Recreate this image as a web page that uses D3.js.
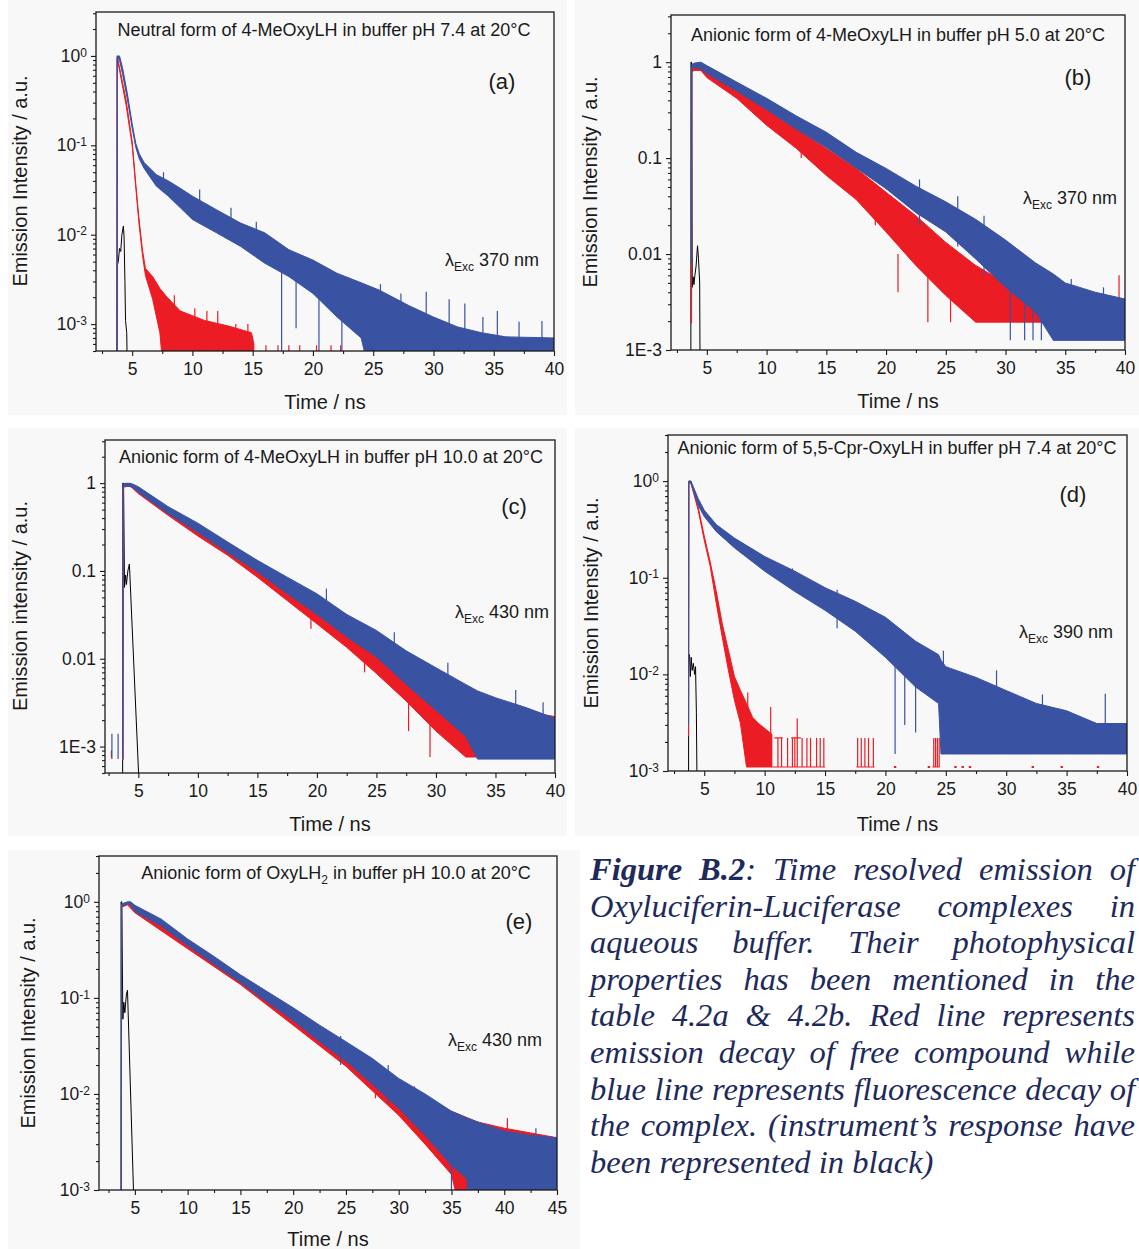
<!DOCTYPE html>
<html><head><meta charset="utf-8">
<script src="https://cdn.jsdelivr.net/npm/d3@7/dist/d3.min.js"></script>
<style>body{margin:0;background:#fff}svg{display:block}</style>
</head><body>
<svg id="fig" width="1139" height="1249"></svg>
<script>
// ---------- DATA ----------
const Z = 1e-4; // zero counts: below the axis floor
// band series: [time ns, lower edge of noisy band, upper edge]
const aBlue = [[3.74,Z,Z],[3.76,0.95,1.0],[3.95,0.9,1.0],[4.2,0.63,0.74],[4.6,0.33,0.38],[5.0,0.155,0.175],[5.3,0.095,0.105],[5.6,0.07,0.08],[6.0,0.055,0.064],[7.0,0.035,0.047],[8.0,0.027,0.04],[9.0,0.02,0.033],[10,0.0148,0.027],[12,0.0105,0.019],[14,0.0074,0.0135],[16,0.0048,0.0105],[18,0.0034,0.0068],[20,0.0022,0.0052],[22,0.0012,0.0037],[24,0.0007,0.0029],[25.5,Z,0.0024],[28,Z,0.0016],[30,Z,0.0012],[32,Z,0.00093],[34,Z,0.0008],[36,Z,0.00072],[40,Z,0.0007]];
const aRed = [[3.74,Z,Z],[3.76,0.95,1.0],[4.5,0.28,0.32],[5.0,0.1,0.11],[5.3,0.034,0.037],[5.55,0.014,0.016],[5.85,0.006,0.0068],[6.1,0.0035,0.0042],[6.7,0.0019,0.0034],[7.3,0.0008,0.0025],[7.9,Z,0.002],[9,Z,0.0014],[11,Z,0.0011],[13,Z,0.00095],[14.9,Z,0.0008],[15.1,Z,0.0006]];
const aBlack = [[3.75,Z],[3.76,0.0045],[3.85,0.005],[3.95,0.007],[4.05,0.0065],[4.15,0.01],[4.27,0.0125],[4.33,0.0095],[4.4,0.003],[4.45,0.0011],[4.55,0.0008],[4.65,Z]];
// single noise spikes: [time, low, high]
const aBlueSpikes = [[7.6,0.03,0.05],[10.6,0.02,0.032],[13.2,0.012,0.02],[15.3,0.006,0.014],[17.4,Z,0.005],[18.6,0.0009,0.005],[20.5,Z,0.004],[22.4,Z,0.003],[25.6,0.0008,0.0028],[27.3,0.0007,0.0022],[29.4,0.0007,0.0023],[31.3,0.0006,0.0019],[32.6,0.0006,0.0017],[34.1,0.0006,0.0012],[35.3,0.0006,0.0014],[37.1,0.0006,0.00106],[39.0,0.0006,0.00108]];
const aRedSpikes = [[8.5,Z,0.0021],[10.2,Z,0.0015],[11.2,Z,0.0014],[12.1,Z,0.0014],[13.6,Z,0.001],[14.6,Z,0.001],[16.1,Z,0.00058],[17.1,Z,0.00058],[18.0,Z,0.00058],[18.9,Z,0.00058],[20.3,Z,0.00058],[21.5,Z,0.00058],[22.3,Z,0.00058]];

const bBlue = [[3.72,0.008,0.009],[3.74,0.85,0.95],[4.0,0.88,0.98],[4.5,0.85,1.0],[5,0.76,0.92],[7.5,0.5,0.62],[10,0.32,0.42],[12.5,0.2,0.275],[15,0.129,0.186],[17.5,0.079,0.115],[20,0.048,0.078],[22.5,0.027,0.051],[25,0.017,0.035],[27.5,0.0089,0.023],[30,0.0045,0.014],[32.5,0.0025,0.0081],[34,0.00126,0.0062],[35,0.00126,0.005],[37.5,0.00126,0.004],[40,0.00126,0.0034]];
const bRed = [[3.72,0.0019,0.002],[3.74,0.8,0.85],[4.0,0.82,0.9],[4.5,0.82,0.95],[5,0.69,0.89],[7.5,0.42,0.55],[10,0.22,0.32],[12.5,0.126,0.2],[15,0.066,0.126],[17.5,0.037,0.078],[20,0.017,0.044],[22.5,0.0076,0.025],[25,0.0037,0.0132],[27.5,0.00195,0.0076],[30,0.00195,0.005],[32.5,0.00195,0.0039],[40,0.00195,0.0033]];
const bBlack = [[3.66,Z],[3.67,1.0],[3.72,1.0],[3.78,0.0045],[3.85,0.0058],[3.92,0.0048],[4.0,0.006],[4.1,0.0075],[4.22,0.0122],[4.3,0.009],[4.4,0.005],[4.46,Z]];
const bBlueSpikes = [[22.8,0.02,0.06],[26.0,0.012,0.04],[28.2,0.006,0.025],[30.4,0.00126,0.006],[31.6,0.00126,0.005],[32.3,0.00126,0.004],[33.0,0.00126,0.004],[35.5,0.003,0.0055],[38.2,0.003,0.0045]];
const bRedSpikes = [[12.9,0.1,0.16],[19.1,0.02,0.05],[21.0,0.004,0.01],[23.5,0.00195,0.008],[25.4,0.00195,0.006],[32.0,0.002,0.004],[39.5,0.002,0.006]];

const cBlue = [[3.70,0.00072,0.00072],[3.72,0.9,0.98],[4.0,0.93,1.0],[4.5,0.9,0.98],[5,0.79,0.91],[7.5,0.45,0.54],[10,0.275,0.35],[12.5,0.162,0.214],[15,0.098,0.132],[17.5,0.055,0.085],[20,0.032,0.055],[22.5,0.0178,0.032],[25,0.0105,0.021],[27.5,0.0051,0.0123],[30,0.0026,0.0079],[32.5,0.0013,0.0051],[33.5,0.00072,0.0043],[35,0.00072,0.0036],[37.5,0.00072,0.0028],[40,0.00072,0.0021]];
const cRed = [[3.70,0.0007,0.0007],[3.72,0.9,0.96],[4.3,0.93,1.0],[5,0.76,0.89],[7.5,0.43,0.51],[10,0.25,0.32],[12.5,0.151,0.195],[15,0.085,0.12],[17.5,0.046,0.071],[20,0.025,0.046],[22.5,0.0135,0.025],[25,0.0068,0.0148],[27.5,0.0033,0.0087],[30,0.0015,0.0048],[32.5,0.00076,0.0033],[35,0.00076,0.0028],[40,0.00076,0.0022]];
const cBlack = [[3.68,Z],[3.69,1.0],[3.76,1.0],[3.84,0.065],[3.93,0.09],[4.0,0.07],[4.12,0.1],[4.25,0.12],[5.05,0.0004]];
const cBlueSpikes = [[2.78,0.00072,0.0014],[3.3,0.00072,0.0014],[20.8,0.04,0.063],[26.5,0.008,0.02],[31.0,0.003,0.009],[36.7,0.002,0.0044],[39.0,0.0015,0.0032]];
const cRedSpikes = [[2.74,0.00075,0.0009],[19.5,0.022,0.04],[24.0,0.007,0.02],[27.7,0.0015,0.005],[29.5,0.00076,0.003]];

const dBlue = [[3.70,0.003,0.003],[3.72,0.97,1.0],[3.9,0.95,1.0],[4.5,0.56,0.66],[5,0.43,0.5],[6,0.3,0.355],[7.5,0.204,0.257],[10,0.117,0.166],[12.5,0.072,0.117],[15,0.046,0.079],[17.5,0.028,0.057],[20,0.015,0.039],[22.5,0.0074,0.022],[24.4,0.005,0.016],[24.6,0.0015,0.014],[25,0.0015,0.012],[27.5,0.0015,0.0093],[30,0.0015,0.0068],[32.5,0.0015,0.005],[35,0.0015,0.0042],[37.5,0.0015,0.0031],[40,0.0015,0.0031]];
const dRed = [[3.70,0.0023,0.0023],[3.72,0.97,1.0],[3.9,0.95,1.0],[4.5,0.5,0.54],[5,0.245,0.27],[5.5,0.13,0.145],[6,0.054,0.072],[6.5,0.024,0.033],[7,0.011,0.0178],[7.5,0.0054,0.0095],[8,0.0031,0.0068],[8.5,0.0011,0.005],[9,0.0011,0.0036],[9.5,0.0011,0.0031],[10.6,0.0011,0.0024]];
const dBlack = [[3.70,Z],[3.71,0.016],[3.78,0.016],[3.85,0.0095],[3.92,0.015],[4.0,0.011],[4.1,0.013],[4.2,0.01],[4.28,0.012],[4.35,0.004],[4.46,Z]];
const dBlueSpikes = [[12.3,0.08,0.125],[16.0,0.03,0.075],[20.8,0.0015,0.02],[21.6,0.003,0.02],[22.5,0.0025,0.015],[24.8,0.005,0.0176],[29.2,0.004,0.011],[33.0,0.0025,0.0062],[38.2,0.002,0.0063]];
const dRedSpikes = [[8.6,0.002,0.0065],[10.5,0.0011,0.0046],[11.1,0.0011,0.0022],[11.4,0.0011,0.0022],[11.9,0.0011,0.0022],[12.3,0.0011,0.0022],[12.5,0.0011,0.0022],[12.7,0.0011,0.0035],[13.1,0.0011,0.0022],[13.5,0.0011,0.0022],[13.8,0.0011,0.0022],[14.3,0.0011,0.0022],[14.6,0.0011,0.0022],[14.9,0.0011,0.0022],[17.7,0.0011,0.0022],[18.0,0.0011,0.0022],[18.3,0.0011,0.0022],[18.6,0.0011,0.0022],[19.0,0.0011,0.0022],[24.0,0.0011,0.0022],[24.15,0.0011,0.0022],[24.3,0.0011,0.0022],[24.45,0.0011,0.0022]];
// red floor / 2-count level runs in (d): [time, level] with null breaks
const dRedRuns = [[10.6,0.0011],[15.0,0.0011],[15.01,null],[10.8,0.0022],[11.5,0.0022],[11.51,null],[12.2,0.0022],[13.0,0.0022],[13.01,null],[17.6,0.0011],[19.1,0.0011],[19.11,null],[23.9,0.0011],[24.5,0.0011]];
const dRedDots = [20.8,23.6,25.8,26.4,27.0,32.2,34.6,37.6];
const dRedDotLevel = 0.0011;

const eBlue = [[3.72,Z,Z],[3.74,0.9,0.95],[4.3,0.95,1.0],[4.6,0.94,1.0],[5,0.79,0.92],[7.5,0.56,0.66],[10,0.35,0.41],[12.5,0.224,0.27],[15,0.145,0.174],[17.5,0.091,0.117],[20,0.058,0.079],[22.5,0.035,0.052],[25,0.022,0.035],[27.5,0.0126,0.0234],[30,0.0071,0.0145],[32.5,0.0037,0.01],[35,0.0018,0.0066],[36.5,0.0013,0.0056],[37.5,Z,0.0051],[40,Z,0.0041],[42.5,Z,0.0037],[45,Z,0.0035]];
const eRed = [[3.72,Z,Z],[3.74,0.88,0.93],[4.3,0.93,0.98],[5,0.77,0.9],[10,0.325,0.39],[15,0.138,0.168],[20,0.052,0.076],[25,0.0194,0.032],[30,0.006,0.0135],[32.5,0.003,0.0091],[35,0.00145,0.0066],[37.5,Z,0.0051],[40,Z,0.0044],[45,Z,0.0035]];
const eBlack = [[3.68,Z],[3.69,1.0],[3.76,1.0],[3.86,0.06],[3.95,0.09],[4.05,0.07],[4.2,0.11],[4.3,0.12],[4.95,0.0005]];
const eBlueSpikes = [[24.5,0.02,0.04],[29.0,0.008,0.02],[35.0,0.001,0.004],[36.5,Z,0.004],[43.0,0.002,0.0044]];
const eRedSpikes = [[27.8,0.009,0.016],[31.5,0.004,0.012],[36.2,Z,0.004],[37.3,0.002,0.0048],[40.3,0.002,0.0056]];

// text
const titles = ["Neutral form of 4-MeOxyLH in buffer pH 7.4 at 20°C","Anionic form of 4-MeOxyLH in buffer pH 5.0 at 20°C","Anionic form of 4-MeOxyLH in buffer pH 10.0 at 20°C","Anionic form of 5,5-Cpr-OxyLH in buffer pH 7.4 at 20°C","Anionic form of OxyLH|2| in buffer pH 10.0 at 20°C"];
const panelTags = ["(a)","(b)","(c)","(d)","(e)"];
const excitation = ["370 nm","370 nm","430 nm","390 nm","430 nm"];
const yTitles = ["Emission Intensity / a.u.","Emission Intensity / a.u.","Emission intensity / a.u.","Emission Intensity / a.u.","Emission Intensity / a.u."];
const xTitle = "Time / ns";
const captionLines = [
  [[["Figure",1]],[["B.2",1],[":",0]],[["Time",0]],[["resolved",0]],[["emission",0]],[["of",0]]],
  "Oxyluciferin-Luciferase complexes in",
  "aqueous buffer. Their photophysical",
  "properties has been mentioned in the",
  "table 4.2a & 4.2b. Red line represents",
  "emission decay of free compound while",
  "blue line represents fluorescence decay of",
  "the complex. (instrument’s response have",
  "been represented in black)"
];

// ---------- LAYOUT ----------
const panels = [
  {L:96,R:554,T:12,B:351,xd:[2,40],yd:[5e-4,3.1],fmt:"sup",bg:[8,0,559,415],
   title:[324,36],tag:[502,89],exc:[445,266],xt:409,yt:[27,181],
   blue:aBlue,red:aRed,black:aBlack,bs:aBlueSpikes,rs:aRedSpikes},
  {L:671,R:1125,T:15,B:350,xd:[2,40],yd:[1e-3,3.1],fmt:"plain",bg:[575,0,564,415],
   title:[898,41],tag:[1078,85],exc:[1023,204],xt:408,yt:[597,182],
   blue:bBlue,red:bRed,black:bBlack,bs:bBlueSpikes,rs:bRedSpikes},
  {L:105,R:555,T:440,B:773,xd:[2.2,40],yd:[5e-4,3.1],fmt:"plain",bg:[8,428,559,408],
   title:[331,463],tag:[514,514],exc:[455,618],xt:831,yt:[27,606],
   blue:cBlue,red:cRed,black:cBlack,bs:cBlueSpikes,rs:cRedSpikes},
  {L:668,R:1127,T:435,B:771,xd:[2,40],yd:[1e-3,3],fmt:"sup",bg:[575,428,564,408],
   title:[897,454],tag:[1073,502],exc:[1019,638],xt:831,yt:[598,603],
   blue:dBlue,red:dRed,black:dBlack,bs:dBlueSpikes,rs:dRedSpikes},
  {L:99,R:557,T:856,B:1190,xd:[1.6,45],yd:[1e-3,3],fmt:"sup",bg:[8,850,572,399],
   title:[336,879],tag:[519,929],exc:[448,1046],xt:1246,yt:[35,1023],
   blue:eBlue,red:eRed,black:eBlack,bs:eBlueSpikes,rs:eRedSpikes}
];

const RED = "#ec1c24", BLUE = "#3a52a2", INK = "#1a1a1a";
const SANS = "'Liberation Sans', Arial, Helvetica, sans-serif";
const svg = d3.select("#fig");
const defs = svg.append("defs");

panels.forEach((p, i) => {
  svg.append("rect").attr("x",p.bg[0]).attr("y",p.bg[1]).attr("width",p.bg[2]).attr("height",p.bg[3]).attr("fill","#f8f8f8");
  const x = d3.scaleLinear().domain(p.xd).range([p.L, p.R]);
  const y = d3.scaleLog().domain(p.yd).range([p.B, p.T]);
  defs.append("clipPath").attr("id","clip"+i).append("rect")
    .attr("x",p.L).attr("y",p.T).attr("width",p.R-p.L).attr("height",p.B-p.T);
  const g = svg.append("g");
  const plot = g.append("g").attr("clip-path",`url(#clip${i})`);
  const line = d3.line().defined(d=>d[1]!=null).x(d=>x(d[0])).y(d=>y(d[1]));
  const area = d3.area().defined(d=>d[1]!=null).x(d=>x(d[0])).y0(d=>y(d[1])).y1(d=>y(d[2]));
  const spikes = (arr, col) => plot.selectAll(null).data(arr).enter().append("line")
      .attr("x1",d=>x(d[0])).attr("x2",d=>x(d[0])).attr("y1",d=>y(d[1])).attr("y2",d=>y(d[2]))
      .attr("stroke",col).attr("stroke-width",1.2);
  plot.append("path").datum(p.black).attr("d",line).attr("fill","none").attr("stroke","#000").attr("stroke-width",1);
  plot.append("path").datum(p.red).attr("d",area).attr("fill",RED).attr("stroke",RED).attr("stroke-width",1).attr("stroke-linejoin","round");
  spikes(p.rs, RED);
  if (i===3) {
    plot.append("path").datum(dRedRuns).attr("d",line).attr("fill","none").attr("stroke",RED).attr("stroke-width",1.2);
    plot.selectAll(null).data(dRedDots).enter().append("rect")
      .attr("x",d=>x(d)-1.2).attr("y",y(dRedDotLevel)-1).attr("width",2.4).attr("height",2).attr("fill",RED);
  }
  plot.append("path").datum(p.blue).attr("d",area).attr("fill",BLUE).attr("stroke",BLUE).attr("stroke-width",1).attr("stroke-linejoin","round");
  spikes(p.bs, BLUE);

  // axes
  const xMajor = d3.range(5, p.xd[1]+0.01, 5);
  const xMinor = d3.range(2.5, p.xd[1], 5).filter(v=>v>=p.xd[0]);
  const styleAxis = sel => { sel.select(".domain").remove(); sel.selectAll("line").attr("stroke",INK).attr("stroke-width",1.1);
     sel.selectAll("text").attr("fill",INK).attr("font-family",SANS).attr("font-size",17.5); };
  g.append("g").attr("transform",`translate(0,${p.B})`)
    .call(d3.axisBottom(x).tickValues(xMajor).tickSize(5).tickPadding(7).tickFormat(d3.format("d"))).call(styleAxis);
  g.append("g").attr("transform",`translate(0,${p.B})`)
    .call(d3.axisBottom(x).tickValues(xMinor).tickSize(3).tickFormat("")).call(styleAxis);
  const lo = Math.log10(p.yd[0]), hi = Math.log10(p.yd[1]);
  const yMajor = d3.range(Math.ceil(lo-1e-9), Math.floor(hi)+1).map(n=>Math.pow(10,n));
  const yMinor = [];
  for (let n=Math.floor(lo); n<=Math.floor(hi); n++) for (let k=2;k<=9;k++){ const v=k*Math.pow(10,n); if(v>=p.yd[0]&&v<=p.yd[1]) yMinor.push(v); }
  const plainFmt = v => v>=1 ? "1" : (v<0.005 ? "1E-3" : String(+v.toFixed(3)));
  const yAx = g.append("g").attr("transform",`translate(${p.L},0)`)
    .call(d3.axisLeft(y).tickValues(yMajor).tickSize(5).tickPadding(4).tickFormat(p.fmt==="sup" ? ()=>"10" : plainFmt)).call(styleAxis);
  if (p.fmt==="sup") {
    yAx.selectAll(".tick text").append("tspan").attr("dy","-0.45em").attr("font-size",12)
      .text(d=>String(Math.round(Math.log10(d))));
  }
  g.append("g").attr("transform",`translate(${p.L},0)`)
    .call(d3.axisLeft(y).tickValues(yMinor).tickSize(3).tickFormat("")).call(styleAxis);
  // frame
  g.append("rect").attr("x",p.L).attr("y",p.T).attr("width",p.R-p.L).attr("height",p.B-p.T)
    .attr("fill","none").attr("stroke",INK).attr("stroke-width",1.3);

  // texts
  const tParts = titles[i].split("|");
  const tt = g.append("text").attr("x",p.title[0]).attr("y",p.title[1]).attr("text-anchor","middle")
    .attr("font-family",SANS).attr("font-size",18).attr("fill",INK);
  tt.append("tspan").text(tParts[0]);
  if (tParts.length>1) { tt.append("tspan").attr("dy",5).attr("font-size",12).text(tParts[1]);
    tt.append("tspan").attr("dy",-5).text(tParts[2]); }
  g.append("text").attr("x",p.tag[0]).attr("y",p.tag[1]).attr("text-anchor","middle")
    .attr("font-family",SANS).attr("font-size",22).attr("fill",INK).text(panelTags[i]);
  const ex = g.append("text").attr("x",p.exc[0]).attr("y",p.exc[1]).attr("font-family",SANS).attr("font-size",18).attr("fill",INK);
  ex.append("tspan").text("λ");
  ex.append("tspan").attr("dy",5).attr("font-size",12).text("Exc");
  ex.append("tspan").attr("dy",-5).text(" "+excitation[i]);
  g.append("text").attr("x",(p.L+p.R)/2).attr("y",p.xt).attr("text-anchor","middle")
    .attr("font-family",SANS).attr("font-size",20).attr("fill",INK).text(xTitle);
  g.append("text").attr("transform",`translate(${p.yt[0]},${p.yt[1]}) rotate(-90)`).attr("text-anchor","middle")
    .attr("font-family",SANS).attr("font-size",20).attr("fill",INK).text(yTitles[i]);
});

// ---------- caption (justified) ----------
const CAP_X = 590, CAP_W = 545, CAP_Y0 = 880, CAP_DY = 36.6, CAP_COL = "#1e2a5c";
const SERIF = "'Liberation Serif', 'Times New Roman', Times, serif";
const capG = svg.append("g").attr("font-family",SERIF).attr("font-style","italic").attr("fill",CAP_COL);
const tokenize = l => typeof l === "string" ? l.split(" ").map(w=>[[w,0]]) : l;
const mk = (tok, fs) => { const t = capG.append("text").attr("font-size",fs);
  tok.forEach(s=>t.append("tspan").attr("font-weight",s[1]?"bold":"normal").text(s[0])); return t; };
let fs = 30;
{ const probe = mk([[captionLines[6],0]], fs); const w = probe.node().getComputedTextLength(); probe.remove(); fs = fs*(CAP_W-2)/w; }
captionLines.forEach((l, li) => {
  const toks = tokenize(l);
  const els = toks.map(tk=>mk(tk, fs));
  const widths = els.map(e=>e.node().getComputedTextLength());
  const sum = d3.sum(widths);
  const last = li === captionLines.length-1;
  const space = fs*0.25;
  const gap = last ? space : (CAP_W - sum)/(toks.length-1);
  let xx = CAP_X;
  els.forEach((e,k)=>{ e.attr("x",xx).attr("y",CAP_Y0+li*CAP_DY); xx += widths[k]+gap; });
});
</script>
</body></html>
